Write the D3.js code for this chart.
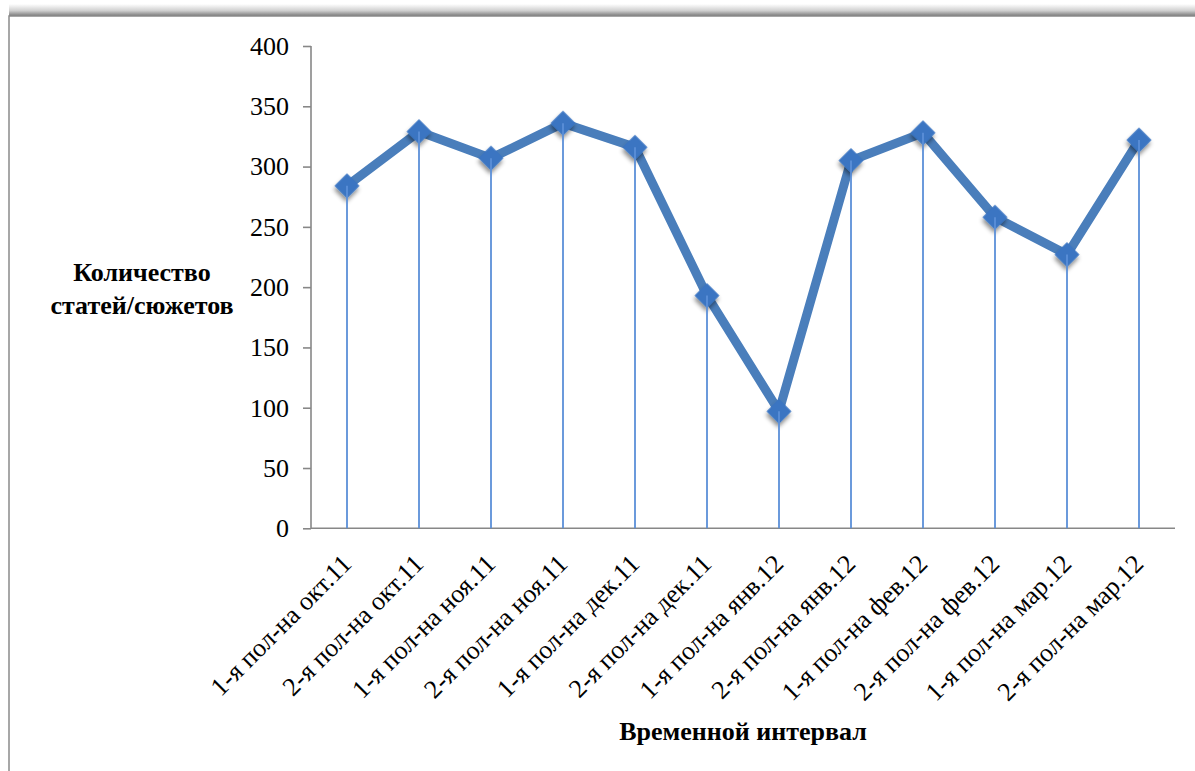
<!DOCTYPE html>
<html>
<head>
<meta charset="utf-8">
<script src="https://cdn.jsdelivr.net/npm/d3@7"></script>
<style>
  html, body { margin: 0; padding: 0; background: #fff; }
  svg { display: block; }
</style>
</head>
<body>
<svg id="chart" width="1195" height="771"></svg>
<script>
// Half-month periods and the number of articles/stories in each
const categories = [
  "1-я пол-на окт.11", "2-я пол-на окт.11",
  "1-я пол-на ноя.11", "2-я пол-на ноя.11",
  "1-я пол-на дек.11", "2-я пол-на дек.11",
  "1-я пол-на янв.12", "2-я пол-на янв.12",
  "1-я пол-на фев.12", "2-я пол-на фев.12",
  "1-я пол-на мар.12", "2-я пол-на мар.12"
];
const counts = [284, 329, 307, 336, 316, 193, 97, 305, 328, 258, 227, 322];
const yTicks = [0, 50, 100, 150, 200, 250, 300, 350, 400];
const yTitle = ["Количество", "статей/сюжетов"];
const xTitle = "Временной интервал";

const svg = d3.select("#chart");
const defs = svg.append("defs");

// Frame with a soft shadow along its top edge
const grad = defs.append("linearGradient")
  .attr("id", "topShade").attr("x1", 0).attr("y1", 0).attr("x2", 0).attr("y2", 1);
grad.append("stop").attr("offset", "0%").attr("stop-color", "#ffffff");
grad.append("stop").attr("offset", "55%").attr("stop-color", "#d0d0d0");
grad.append("stop").attr("offset", "100%").attr("stop-color", "#7a7a7a");

const shadow = defs.append("filter").attr("id", "markShadow")
  .attr("x", "-60%").attr("y", "-60%").attr("width", "220%").attr("height", "220%");
shadow.append("feDropShadow")
  .attr("dx", 2).attr("dy", 3).attr("stdDeviation", 2.2)
  .attr("flood-color", "#000").attr("flood-opacity", 0.45);

svg.append("rect")
  .attr("x", 9).attr("y", 4).attr("width", 1200).attr("height", 12)
  .attr("fill", "url(#topShade)");
svg.append("rect")
  .attr("x", 9).attr("y", 16).attr("width", 1200).attr("height", 800)
  .attr("fill", "#fff").attr("stroke", "#8a8a8a").attr("stroke-width", 1.5);

// Scales
const plot = { left: 311, right: 1175, top: 46, bottom: 528.3 };
const x = d3.scaleBand().domain(categories).range([plot.left, plot.right]).paddingInner(0).paddingOuter(0);
const y = d3.scaleLinear().domain([0, 400]).range([plot.bottom, plot.top]);
const cx = d => x(d) + x.bandwidth() / 2;

const serif = "'Liberation Serif', 'Times New Roman', serif";

// Y axis
const yAxis = svg.append("g")
  .attr("transform", `translate(${plot.left},0)`)
  .call(d3.axisLeft(y).tickValues(yTicks).tickSize(8).tickPadding(14).tickFormat(d3.format("d")));
yAxis.select(".domain").attr("stroke", "#878787").attr("stroke-width", 1.6)
  .attr("d", `M0,${y(400)}V${y(0)}`);
yAxis.selectAll(".tick line").attr("stroke", "#878787").attr("stroke-width", 1.6);
yAxis.selectAll(".tick text")
  .attr("font-family", serif).attr("font-size", 26).attr("fill", "#000");

// X axis (line only; labels rotated below)
const xAxis = svg.append("g")
  .attr("transform", `translate(0,${plot.bottom})`)
  .call(d3.axisBottom(x).tickSize(0).tickFormat(""));
xAxis.select(".domain").attr("stroke", "#878787").attr("stroke-width", 1.6)
  .attr("d", `M${plot.left},0H${plot.right}`);

svg.append("g").selectAll("text")
  .data(categories)
  .join("text")
  .attr("transform", d => `translate(${cx(d) + 6},${plot.bottom + 37}) rotate(-45)`)
  .attr("text-anchor", "end")
  .attr("font-family", serif)
  .attr("font-size", 26)
  .attr("fill", "#000")
  .text(d => d);

// Series line
const line = d3.line().x((d, i) => cx(categories[i])).y(d => y(d));
svg.append("path")
  .datum(counts)
  .attr("d", line)
  .attr("fill", "none")
  .attr("stroke", "#4a7ebb")
  .attr("stroke-width", 9)
  .attr("stroke-linejoin", "miter");

// Diamond markers
const diamond = d3.symbol().type(d3.symbolSquare).size(310);
svg.append("g").selectAll("path")
  .data(counts)
  .join("path")
  .attr("d", diamond)
  .attr("transform", (d, i) => `translate(${cx(categories[i])},${y(d)}) rotate(45)`)
  .attr("fill", "#3a74c2")
  .attr("filter", "url(#markShadow)");

// Drop lines from each point to the category axis
svg.append("g").selectAll("line")
  .data(counts)
  .join("line")
  .attr("x1", (d, i) => cx(categories[i]))
  .attr("x2", (d, i) => cx(categories[i]))
  .attr("y1", d => y(d))
  .attr("y2", y(0))
  .attr("stroke", "#5b8fd8")
  .attr("stroke-width", 1.8);

// Axis titles
const yt = svg.append("text")
  .attr("font-family", serif).attr("font-size", 26).attr("font-weight", "bold")
  .attr("text-anchor", "middle").attr("fill", "#000");
yt.selectAll("tspan").data(yTitle).join("tspan")
  .attr("x", 142).attr("y", (d, i) => 281 + i * 33)
  .text(d => d);

svg.append("text")
  .attr("x", 743).attr("y", 740)
  .attr("font-family", serif).attr("font-size", 26).attr("font-weight", "bold")
  .attr("text-anchor", "middle").attr("fill", "#000")
  .text(xTitle);
</script>
</body>
</html>
